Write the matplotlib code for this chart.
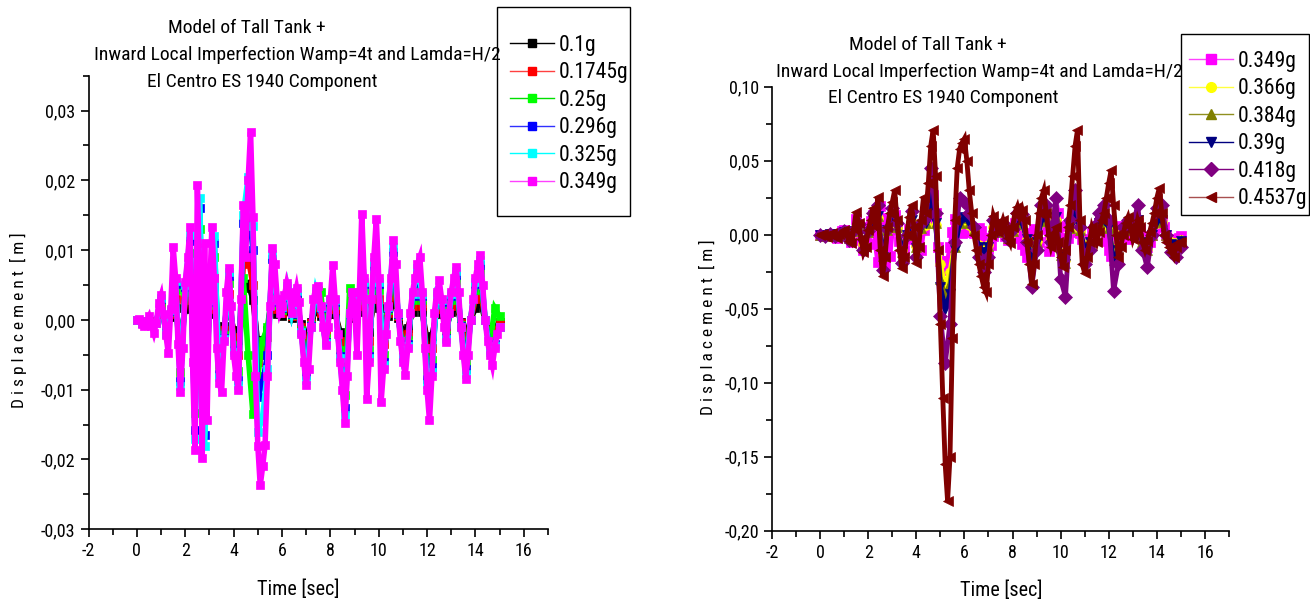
import numpy as np
import matplotlib
matplotlib.use('Agg')
import matplotlib.pyplot as plt
from matplotlib.lines import Line2D
from matplotlib.patches import Rectangle
from matplotlib.ticker import MultipleLocator, FuncFormatter

plt.rcParams['font.family'] = ['Roboto Condensed', 'Liberation Sans', 'DejaVu Sans']
plt.rcParams['axes.unicode_minus'] = False

# time grids [sec]
t_fine = np.linspace(0, 15, 151)    # 0.1 s steps
t_coarse = np.linspace(0, 15, 76)   # 0.2 s steps

# ---- left panel, displacement in mm ----
disp_0349 = [
    0, 0.1, -0.6, -0.9, -0.2, 0.5, -0.8, -1.9, -0.5, 2.4,
    3.5, 0.8, -2.2, -4.8, 1.5, 10.4, 6.0, -3.5, -10.3, -4.0,
    5.5, 9.0, 13.3, -6.0, -18.6, 19.3, 4.0, -19.8, 11.0, -14.4,
    3.0, 13.3, 6.0, -4.0, -9.0, -10.3, -3.0, 4.0, 7.4, 2.0,
    -5.0, -8.0, -10.1, 3.0, 16.4, 9.0, 20.0, 26.9, 14.7, -8.0,
    -18.0, -23.7, -21.0, -17.9, -8.0, 2.0, 10.3, 8.0, 3.0, 1.0,
    2.0, 3.5, 5.3, 4.0, 1.0, 3.0, 4.6, 2.5, -2.0, -6.0,
    -9.3, -7.0, -1.0, 3.0, 4.6, 4.8, 2.0, -1.0, -3.6, -1.0,
    3.0, 7.8, 3.0, -2.0, -6.0, -10.0, -14.8, -8.0, 1.0, 4.0,
    2.0, -5.0, 4.0, 15.2, 6.0, -11.3, -6.0, 3.0, 9.0, 14.5,
    6.0, -11.7, -7.0, -2.0, 2.0, 6.0, 11.4, 8.0, 1.0, -3.0,
    -6.0, -7.9, -4.0, 1.0, 4.0, 6.0, 8.0, 9.0, 4.0, -4.0,
    -10.0, -14.4, -8.0, 1.0, 4.0, 5.7, 3.0, -1.0, -3.1, 1.0,
    4.0, 6.0, 7.6, 4.0, -1.0, -5.0, -8.4, -5.0, 0.0, 3.0,
    6.0, 8.0, 9.3, 5.0, 0.0, -3.0, -5.0, -6.5, -4.0, -2.0,
    -1.0]

disp_0325 = [
    0, -0.5, -0.2, -0.7, -0.4, 3.2, -2.0, 1.4, 5.6, -9.5,
    5.0, 12.2, -17.0, 17.5, -18.0, 2.8, 12.0, -8.2, -2.8, 6.8,
    -4.6, -9.3, 15.0, 20.5, 13.5, -16.0, -14.0, -7.0, 9.5, 2.8,
    1.8, 4.9, 1.0, 4.2, -1.8, -8.6, -1.0, 4.2, 1.8, -3.3,
    2.8, 2.8, -5.5, -13.6, 1.0, 1.8, 3.7, 5.5, -5.5, 8.3,
    5.5, -6.4, 1.8, 10.5, 1.0, -5.5, -3.7, 3.7, 7.4, 3.7,
    -9.2, -7.4, 3.7, 2.8, -2.8, 3.7, 7.0, -1.0, -7.7, 0.0,
    5.5, 8.6, 0.0, -4.6, -3.7, -1.0]

disp_0296 = [
    0, -0.5, -0.2, -0.7, -0.4, 3.0, -1.9, 1.3, 5.1, -8.8,
    4.7, 11.3, -15.8, 16.0, -16.5, 2.6, 11.0, -7.7, -2.6, 6.3,
    -4.3, -8.6, 13.9, 17.0, 10.0, -11.0, -9.0, -5.0, 8.8, 2.6,
    1.7, 4.5, 0.9, 3.9, -1.7, -7.9, -0.9, 3.9, 1.7, -3.1,
    2.6, 2.6, -5.1, -12.6, 0.9, 1.7, 3.4, 5.1, -5.1, 7.7,
    5.1, -6.0, 1.7, 9.7, 0.9, -5.1, -3.4, 3.4, 6.8, 3.4,
    -8.5, -6.8, 3.4, 2.6, -2.6, 3.4, 6.5, -0.9, -7.1, 0.0,
    5.1, 7.9, 0.0, -4.3, -3.4, -1.0]

disp_0250 = [
    0, -0.4, -0.1, -0.6, -0.3, 2.5, -1.6, 1.1, 4.3, -7.4,
    4.0, 9.6, -13.4, 13.0, -14.0, 2.2, 9.0, -6.5, -2.2, 5.3,
    -3.6, -7.3, 6.0, -5.0, -13.5, -8.0, -3.0, -1.0, 4.0, 2.2,
    1.4, 3.8, 0.7, 3.3, -1.4, -6.7, -0.7, 3.3, 4.0, -2.6,
    2.2, 2.2, -4.3, -10.7, 4.6, 1.4, 2.9, 4.3, -4.3, 6.5,
    4.3, -5.0, 1.4, 8.2, 0.7, -4.3, -2.9, 2.9, 5.8, 2.9,
    -7.2, -5.8, 2.9, 2.2, -2.2, 2.9, 5.5, -0.7, -6.0, 0.0,
    4.3, 6.7, 0.0, -3.6, 1.7, 0.5]

disp_01745 = [
    0, -0.3, -0.1, -0.4, -0.2, 1.7, -1.1, 0.8, 3.0, -5.1,
    2.8, 6.7, -9.3, 9.0, -9.5, 1.5, 6.0, -4.5, -1.5, 3.7,
    -2.5, -5.0, 8.0, 9.0, 5.0, -6.0, -5.0, -2.5, 5.0, 1.5,
    1.0, 2.6, 0.5, 2.3, -1.0, -4.6, -0.5, 2.3, 1.0, -1.8,
    1.5, 1.5, -3.0, -7.4, 0.5, 1.0, 2.0, 3.0, -3.0, 4.5,
    3.0, -3.5, 1.0, 5.7, 0.5, -3.0, -2.0, 2.0, 4.0, 2.0,
    -5.0, -4.0, 2.0, 1.5, -1.5, 2.0, 3.8, -0.5, -4.2, 0.0,
    3.0, 4.6, 0.0, -2.5, -2.0, -0.5]

disp_0100 = [
    0, -0.2, -0.1, -0.2, -0.1, 1.0, -0.6, 0.4, 1.7, -3.0,
    1.6, 3.9, -5.4, 5.2, -5.5, 0.9, 3.5, -2.6, -0.9, 2.1,
    -1.5, -2.9, 4.6, 5.2, 2.9, -3.5, -2.9, -1.5, 2.9, 0.9,
    0.6, 1.5, 0.3, 1.3, -0.6, -2.7, -0.3, 1.3, 0.6, -1.0,
    0.9, 0.9, -1.7, -4.3, 0.3, 0.6, 1.1, 1.7, -1.7, 2.6,
    1.7, -2.0, 0.6, 3.3, 0.3, -1.7, -1.1, 1.1, 2.3, 1.1,
    -2.9, -2.3, 1.1, 0.9, -0.9, 1.1, 2.2, -0.3, -2.4, 0.0,
    1.7, 2.7, 0.0, -1.5, -1.1, -0.3]

# ---- right panel, displacement in mm ----
disp_04537 = [
    0, 0.5, -1.0, -1.5, 0.5, 1.0, -1.0, -2.0, 0.5, 2.0,
    3.0, 0.0, -4.0, -5.7, 4.0, 15.5, 8.0, -3.0, -12.0, -8.0,
    3.0, 10.0, 18.0, 5.0, 25.7, -10.0, -28.0, -15.0, 5.0, 15.0,
    22.0, 30.0, 10.0, -10.0, -22.6, -15.0, 0.0, 12.0, 20.0, 5.0,
    -19.0, -8.0, 10.0, 25.7, 15.0, 35.0, 60.0, 71.0, 40.0, -10.0,
    -60.0, -110.0, -155.0, -180.0, -150.0, -70.0, 10.0, 45.0, 58.0, 62.0,
    65.0, 50.0, 30.0, 15.0, 0.0, -10.0, -20.0, -28.0, -35.0, -39.0,
    -20.0, 0.0, 13.0, 8.0, 2.0, 5.0, 10.0, 4.0, -2.0, -5.7,
    5.0, 15.0, 19.0, 12.0, 17.0, 10.0, -5.0, -20.0, -33.0, -20.0,
    0.0, 15.0, 25.0, 30.0, 15.0, 0.0, -8.0, -2.0, 5.0, -5.0,
    -15.0, -21.6, -10.0, 5.0, 20.0, 40.0, 60.0, 70.7, 10.0, -20.0,
    -26.0, -15.0, -5.0, 5.0, 0.0, -5.0, 2.0, 10.0, 15.0, 25.0,
    35.0, 43.7, 20.0, 0.0, -15.0, -8.0, 0.0, 8.0, 12.0, 5.0,
    -3.0, 2.0, 10.0, 5.0, -5.0, -10.0, -4.0, 2.0, 8.0, 15.0,
    25.0, 31.5, 15.0, 0.0, -5.0, -8.0, -12.0, -15.0, -8.0, -5.0,
    -5.0]

disp_0418 = [
    0, -0.8, 0.3, -0.8, 0.3, 2.5, -3.5, 3.5, 7.0, -10.0,
    2.5, 15.0, 20.0, -24.0, 4.0, 18.0, 8.0, -19.0, 0.0, 16.0,
    -15.0, 8.0, 12.0, 45.0, 15.0, -55.0, -87.0, -60.0, -5.0, 25.0,
    22.0, 15.0, 5.0, -15.0, -25.0, -15.0, 10.0, 3.0, 8.0, -3.0,
    4.0, 15.0, 14.0, -5.0, -35.0, -10.0, 20.0, 20.0, -5.0, 25.0,
    -30.0, -42.0, 10.0, 30.0, 5.0, -20.0, -10.0, 5.0, 15.0, 20.0,
    10.0, -38.0, -20.0, 5.0, 10.0, 5.0, 20.0, -10.0, -22.0, 0.0,
    18.0, 20.0, 0.0, -12.0, -15.0, -8.0]

disp_0390 = [
    0, -0.6, 0.2, -0.6, 0.2, 2.0, -2.5, 2.5, 5.0, -7.0,
    2.0, 10.0, 13.0, -15.0, 3.0, 12.0, 5.5, -12.0, 0.0, 10.0,
    -9.0, 5.0, 8.0, 28.0, 8.0, -35.0, -50.0, -40.0, -10.0, 8.0,
    12.0, 8.0, 3.0, -8.0, -12.0, -8.0, 6.0, 2.0, 5.0, -2.0,
    2.5, 9.0, 8.0, -3.0, -18.0, -5.0, 10.0, 11.0, -3.0, 12.0,
    -15.0, -20.0, 5.0, 15.0, 3.0, -10.0, -5.0, 3.0, 8.0, 10.0,
    5.0, -18.0, -10.0, 3.0, 5.0, 3.0, 10.0, -5.0, -11.0, 0.0,
    9.0, 10.0, 0.0, -6.0, -7.0, -4.0]

disp_0384 = [
    0, -0.6, 0.2, -0.6, 0.2, 1.9, -2.4, 2.4, 4.8, -6.8,
    1.9, 9.6, 12.5, -14.4, 2.9, 11.5, 5.3, -11.5, 0.0, 9.6,
    -8.6, 4.8, 7.7, 26.0, 7.7, -30.0, -42.0, -33.0, -8.0, 8.0,
    11.0, 7.7, 2.9, -7.7, -11.5, -7.7, 5.8, 1.9, 4.8, -1.9,
    2.4, 8.6, 7.7, -2.9, -17.0, -4.8, 9.6, 10.5, -2.9, 11.0,
    -14.0, -19.0, 4.8, 14.4, 2.9, -9.6, -4.8, 2.9, 7.7, 9.6,
    4.8, -17.0, -9.6, 2.9, 4.8, 2.9, 9.6, -4.8, -10.5, 0.0,
    8.6, 9.6, 0.0, -5.8, -6.7, -3.8]

disp_0366 = [
    0, -0.5, 0.2, -0.5, 0.2, 1.6, -2.1, 2.1, 4.2, -6.0,
    1.7, 8.5, 11.0, -12.8, 2.6, 10.2, 4.7, -10.2, 0.0, 8.5,
    -7.6, 4.2, 6.8, 23.0, 6.8, -20.0, -35.0, -25.0, -6.0, 7.0,
    9.5, 6.8, 2.6, -6.8, -10.2, -6.8, 5.1, 1.7, 4.2, -1.7,
    2.1, 7.6, 6.8, -2.6, -15.0, -4.2, 8.5, 9.3, -2.6, 10.0,
    -12.5, -17.0, 4.2, 12.8, 2.6, -8.5, -4.2, 2.6, 6.8, 8.5,
    4.2, -15.0, -8.5, 2.6, 4.2, 2.6, 8.5, -4.2, -9.3, 0.0,
    7.6, 8.5, 0.0, -5.1, -5.9, -3.4]

left_series = [
    ('0.1g', t_coarse, disp_0100, 'black', 'black', 's'),
    ('0.1745g', t_coarse, disp_01745, '#ff0000', '#ff4040', 's'),
    ('0.25g', t_coarse, disp_0250, '#00ff00', '#00e000', 's'),
    ('0.296g', t_coarse, disp_0296, '#0000ff', '#3030ff', 's'),
    ('0.325g', t_coarse, disp_0325, '#00ffff', '#00ffff', 's'),
    ('0.349g', t_fine, disp_0349, '#ff00ff', '#ff40ff', 's'),
]
right_series = [
    ('0.349g', t_fine, disp_0349, '#ff00ff', '#ff40ff', 's'),
    ('0.366g', t_coarse, disp_0366, '#ffff00', '#ffff40', 'o'),
    ('0.384g', t_coarse, disp_0384, '#808000', '#909020', '^'),
    ('0.39g', t_coarse, disp_0390, '#000080', '#000080', 'v'),
    ('0.418g', t_coarse, disp_0418, '#800080', '#800080', 'D'),
    ('0.4537g', t_fine, disp_04537, '#800000', '#a85050', '<'),
]

title_lines = ['Model of Tall Tank +',
               'Inward Local Imperfection Wamp=4t and Lamda=H/2',
               'El Centro ES 1940 Component']
ylabel_txt = 'D i s p l a c e m e n t  [ m ]'

fig = plt.figure(figsize=(13.1, 6.02), dpi=100)
ax1 = fig.add_axes([0.0676, 0.1208, 0.3507, 0.7535])
ax2 = fig.add_axes([0.5893, 0.1184, 0.3489, 0.7375])

comma = FuncFormatter(lambda v, p: ('%.2f' % v).replace('.', ','))


def draw(ax, series, msize, lw):
    handles = []
    for lab, t, d, mc, lc, mk in series:
        # thick stroke mimics the densely stacked markers of the original
        ax.plot(t, np.array(d) / 1000.0, color=mc, lw=lw, marker=mk,
                markersize=msize, markerfacecolor=mc, markeredgecolor=mc,
                markeredgewidth=0.5, solid_joinstyle='miter')
        handles.append(Line2D([], [], color=lc, lw=1.0, marker=mk,
                              markersize=msize, markerfacecolor=mc,
                              markeredgecolor=mc, label=lab))
    return handles


def style(ax, ylim, ymaj, ymin):
    ax.set_xlim(-2, 17)
    ax.set_ylim(*ylim)
    for s in ['top', 'right']:
        ax.spines[s].set_visible(False)
    for s in ['left', 'bottom']:
        ax.spines[s].set_linewidth(1.2)
    ax.xaxis.set_major_locator(MultipleLocator(2))
    ax.xaxis.set_minor_locator(MultipleLocator(1))
    ax.yaxis.set_major_locator(MultipleLocator(ymaj))
    ax.yaxis.set_minor_locator(MultipleLocator(ymin))
    ax.yaxis.set_major_formatter(comma)
    ax.tick_params(which='major', direction='out', length=6, width=1.2, labelsize=13)
    ax.tick_params(which='minor', direction='out', length=4, width=1.2)
    ax.set_xlabel('Time [sec]', fontsize=14.5)
    ax.set_ylabel(ylabel_txt, fontsize=12.5)


h1 = draw(ax1, left_series, 6, 4.0)
style(ax1, (-0.03, 0.035), 0.01, 0.005)
ax1.xaxis.set_label_coords(0.456, -0.11)
ax1.yaxis.set_label_coords(-0.135, 0.461)

h2 = draw(ax2, right_series, 7, 3.5)
style(ax2, (-0.20, 0.10), 0.05, 0.025)
ax2.xaxis.set_label_coords(0.501, -0.113)
ax2.yaxis.set_label_coords(-0.123, 0.459)

W, H = 1310.0, 602.0
for (x, y), txt in zip([(247, 28), (297, 55), (262, 82)], title_lines):
    fig.text(x / W, 1 - y / H, txt, ha='center', va='center', fontsize=14)
for (x, y), txt in zip([(928, 45), (979, 72), (943, 98)], title_lines):
    fig.text(x / W, 1 - y / H, txt, ha='center', va='center', fontsize=14)

# legend boxes drawn as plain rectangles, entries placed inside without frame
for x0, y0, x1, y1 in [(497, 7, 630, 216), (1181, 34, 1309, 215)]:
    fig.patches.append(Rectangle((x0 / W, 1 - y1 / H), (x1 - x0) / W, (y1 - y0) / H,
                                 transform=fig.transFigure, fill=True,
                                 facecolor='white', edgecolor='black', lw=1.0,
                                 zorder=3))

for hs, (ax0, ay0) in [(h1, (510, 35)), (h2, (1189, 51))]:
    leg = fig.legend(handles=hs, loc='upper left', bbox_to_anchor=(ax0 / W, 1 - ay0 / H),
                     fontsize=15.5, frameon=False, handlelength=2.05,
                     handletextpad=0.2, labelspacing=0.3, borderpad=0,
                     borderaxespad=0)
    leg.set_zorder(4)

fig.savefig('out.png', dpi=100)
